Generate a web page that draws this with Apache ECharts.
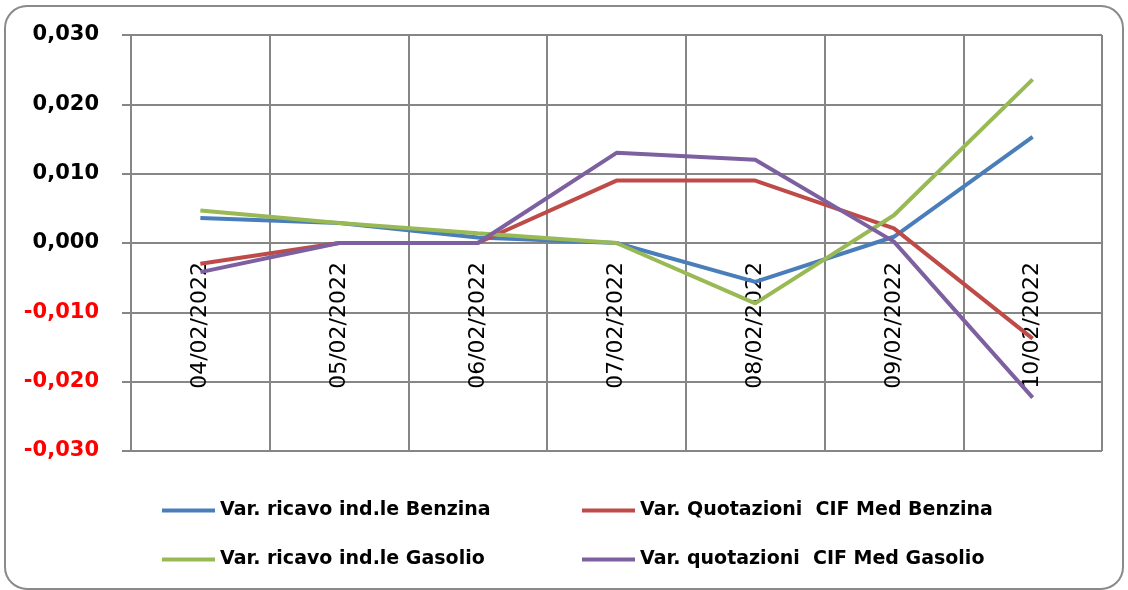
<!DOCTYPE html>
<html>
<head>
<meta charset="utf-8">
<script src="https://cdn.jsdelivr.net/npm/echarts@6/dist/echarts.min.js"></script>
<style>
  html, body { margin: 0; padding: 0; background: #fff; }
  #chart { width: 1128px; height: 590px; }
</style>
</head>
<body>
<div id="chart"></div>
<script>
const dates = ['04/02/2022', '05/02/2022', '06/02/2022', '07/02/2022', '08/02/2022', '09/02/2022', '10/02/2022']

const ricavoBenzina = [0.0036, 0.0029, 0.0008, 0.0000, -0.0056, 0.0009, 0.0153]
const quotBenzina = [-0.0030, 0.0000, 0.0000, 0.0090, 0.0090, 0.0021, -0.0138]
const ricavoGasolio = [0.0047, 0.0029, 0.0014, 0.0000, -0.0087, 0.0040, 0.0236]
const quotGasolio = [-0.0042, 0.0000, 0.0000, 0.0130, 0.0120, 0.0002, -0.0223]

const names = [
  'Var. ricavo ind.le Benzina',
  'Var. Quotazioni  CIF Med Benzina',
  'Var. ricavo ind.le Gasolio',
  'Var. quotazioni  CIF Med Gasolio'
]
const colors = ['#4A7EBB', '#BE4B48', '#98B954', '#7D60A0']
const values = [ricavoBenzina, quotBenzina, ricavoGasolio, quotGasolio]

const gridColor = '#868686'
// grid: top 35 (0,030) .. bottom 451 (-0,030), zero line at 243
const zeroOffset = -208
const legendPos = [
  { left: 157, top: 496 },
  { left: 577, top: 496 },
  { left: 157, top: 545 },
  { left: 577, top: 545 }
]

const chart = echarts.init(document.getElementById('chart'))

chart.setOption({
  backgroundColor: '#ffffff',
  animation: false,
  color: colors,
  grid: { left: 131, right: 26, top: 35, bottom: 139, containLabel: false, outerBoundsMode: 'none' },
  legend: names.map((n, i) => ({
    data: [n],
    left: legendPos[i].left,
    top: legendPos[i].top,
    icon: 'rect',
    itemWidth: 53,
    itemHeight: 4,
    textStyle: { fontFamily: 'DejaVu Sans', fontWeight: 'bold', fontSize: 19, color: '#000' }
  })),
  xAxis: {
    type: 'category',
    data: dates,
    boundaryGap: true,
    offset: zeroOffset,
    axisLine: { show: false, onZero: false },
    axisTick: { show: false },
    splitLine: { show: true, lineStyle: { color: gridColor, width: 2 } },
    axisLabel: {
      rotate: 90,
      margin: 19,
      interval: 0,
      fontFamily: 'DejaVu Sans',
      fontSize: 22,
      color: '#000'
    }
  },
  yAxis: {
    type: 'value',
    min: -0.03,
    max: 0.03,
    interval: 0.01,
    axisLine: { show: true, lineStyle: { color: gridColor, width: 2 } },
    axisTick: { show: true, length: 9, lineStyle: { color: gridColor, width: 2 } },
    splitLine: { show: true, lineStyle: { color: gridColor, width: 2 } },
    axisLabel: {
      margin: 32,
      fontFamily: 'DejaVu Sans',
      fontWeight: 'bold',
      fontSize: 21,
      color: (v) => (v < -1e-9 ? '#FF0000' : '#000000'),
      formatter: (v) => (Math.abs(v) < 1e-9 ? 0 : v).toFixed(3).replace('.', ',')
    }
  },
  graphic: [{
    type: 'rect',
    shape: { x: 5, y: 6, width: 1118, height: 583, r: 22 },
    style: { fill: 'none', stroke: '#8a8a8a', lineWidth: 2 },
    silent: true
  }],
  series: values.map((d, i) => ({
    name: names[i],
    type: 'line',
    data: d,
    symbol: 'none',
    lineStyle: { width: 4, color: colors[i] },
    itemStyle: { color: colors[i] }
  }))
})
</script>
</body>
</html>
